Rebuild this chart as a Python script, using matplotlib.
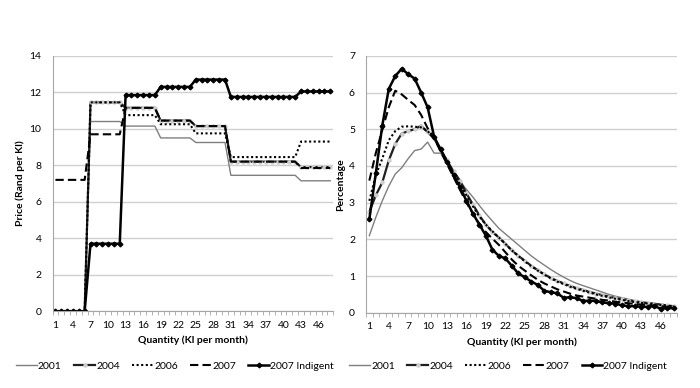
import numpy as np
import matplotlib
matplotlib.use("Agg")
import matplotlib.pyplot as plt
from matplotlib.ticker import MultipleLocator, FixedLocator

plt.rcParams['font.family'] = ['Lato', 'DejaVu Sans']

# Quantity categories (Kl per month)
quantity = list(range(1, 49))
tick_labels = [str(q) for q in range(1, 47, 3)]

series_names = ['2001', '2004', '2006', '2007', '2007 Indigent']

# Left panel: price (Rand per Kl)
price_2001 = [0, 0, 0, 0, 0, 0,
              10.4, 10.4, 10.4, 10.4, 10.4, 10.4,
              10.15, 10.15, 10.15, 10.15, 10.15, 10.15,
              9.5, 9.5, 9.5, 9.5, 9.5, 9.5,
              9.25, 9.25, 9.25, 9.25, 9.25, 9.25,
              7.45, 7.45, 7.45, 7.45, 7.45, 7.45, 7.45, 7.45, 7.45, 7.45, 7.45, 7.45,
              7.15, 7.15, 7.15, 7.15, 7.15, 7.15]
price_2004 = [0, 0, 0, 0, 0, 0,
              11.45, 11.45, 11.45, 11.45, 11.45, 11.45,
              11.15, 11.15, 11.15, 11.15, 11.15, 11.15,
              10.45, 10.45, 10.45, 10.45, 10.45, 10.45,
              10.15, 10.15, 10.15, 10.15, 10.15, 10.15,
              8.2, 8.2, 8.2, 8.2, 8.2, 8.2, 8.2, 8.2, 8.2, 8.2, 8.2, 8.2,
              7.9, 7.9, 7.9, 7.9, 7.9, 7.9]
price_2006 = [0, 0, 0, 0, 0, 0,
              11.45, 11.45, 11.45, 11.45, 11.45, 11.45,
              10.75, 10.75, 10.75, 10.75, 10.75, 10.75,
              10.25, 10.25, 10.25, 10.25, 10.25, 10.25,
              9.75, 9.75, 9.75, 9.75, 9.75, 9.75,
              8.45, 8.45, 8.45, 8.45, 8.45, 8.45, 8.45, 8.45, 8.45, 8.45, 8.45, 8.45,
              9.3, 9.3, 9.3, 9.3, 9.3, 9.3]
price_2007 = [7.2, 7.2, 7.2, 7.2, 7.2, 7.2,
              9.7, 9.7, 9.7, 9.7, 9.7, 9.7,
              11.15, 11.15, 11.15, 11.15, 11.15, 11.15,
              10.45, 10.45, 10.45, 10.45, 10.45, 10.45,
              10.15, 10.15, 10.15, 10.15, 10.15, 10.15,
              8.2, 8.2, 8.2, 8.2, 8.2, 8.2, 8.2, 8.2, 8.2, 8.2, 8.2, 8.2,
              7.85, 7.85, 7.85, 7.85, 7.85, 7.85]
price_indigent = [0, 0, 0, 0, 0, 0,
                  3.7, 3.7, 3.7, 3.7, 3.7, 3.7,
                  11.85, 11.85, 11.85, 11.85, 11.85, 11.85,
                  12.3, 12.3, 12.3, 12.3, 12.3, 12.3,
                  12.7, 12.7, 12.7, 12.7, 12.7, 12.7,
                  11.75, 11.75, 11.75, 11.75, 11.75, 11.75, 11.75, 11.75, 11.75, 11.75, 11.75, 11.75,
                  12.05, 12.05, 12.05, 12.05, 12.05, 12.05]

# Right panel: percentage of households
pct_2001 = [2.1, 2.6, 3.05, 3.45, 3.78, 3.95, 4.2, 4.42, 4.46, 4.65,
            4.35, 4.35, 4.08, 3.82, 3.58, 3.36, 3.15, 2.92, 2.7, 2.5,
            2.3, 2.15, 2.0, 1.85, 1.7, 1.55, 1.42, 1.3, 1.18, 1.07,
            0.97, 0.88, 0.8, 0.74, 0.68, 0.62, 0.56, 0.5, 0.45, 0.41,
            0.37, 0.33, 0.3, 0.28, 0.26, 0.23, 0.21, 0.19]
pct_2004 = [2.75, 3.2, 3.55, 4.15, 4.6, 4.88, 4.95, 5.0, 5.1, 4.92,
            4.75, 4.45, 4.15, 3.85, 3.6, 3.25, 2.95, 2.65, 2.4, 2.2,
            2.05, 1.88, 1.7, 1.55, 1.42, 1.28, 1.16, 1.05, 0.95, 0.87,
            0.8, 0.73, 0.67, 0.62, 0.57, 0.52, 0.48, 0.44, 0.4, 0.37,
            0.34, 0.31, 0.28, 0.26, 0.24, 0.22, 0.2, 0.17]
pct_2006 = [3.05, 3.75, 4.2, 4.7, 4.95, 5.07, 5.08, 5.07, 5.05, 4.95,
            4.75, 4.45, 4.12, 3.82, 3.5, 3.2, 2.9, 2.62, 2.4, 2.22,
            2.05, 1.88, 1.7, 1.55, 1.4, 1.27, 1.15, 1.04, 0.94, 0.85,
            0.78, 0.71, 0.65, 0.6, 0.55, 0.5, 0.46, 0.42, 0.38, 0.35,
            0.32, 0.29, 0.27, 0.25, 0.23, 0.21, 0.19, 0.17]
pct_2007 = [3.6, 4.35, 4.98, 5.6, 6.05, 5.95, 5.8, 5.66, 5.39, 5.03,
            4.76, 4.4, 4.05, 3.7, 3.35, 3.0, 2.7, 2.42, 2.2, 2.02,
            1.85, 1.65, 1.45, 1.28, 1.15, 1.02, 0.9, 0.8, 0.72, 0.64,
            0.58, 0.52, 0.47, 0.44, 0.41, 0.38, 0.35, 0.33, 0.3, 0.28,
            0.26, 0.24, 0.22, 0.21, 0.19, 0.18, 0.16, 0.15]
pct_indigent = [2.55, 3.8, 5.1, 6.1, 6.45, 6.65, 6.5, 6.38, 6.0, 5.6,
                4.8, 4.45, 4.1, 3.75, 3.42, 3.05, 2.7, 2.4, 2.1, 1.72,
                1.55, 1.48, 1.28, 1.07, 0.97, 0.85, 0.76, 0.6, 0.56, 0.53,
                0.41, 0.42, 0.4, 0.32, 0.33, 0.32, 0.28, 0.26, 0.25, 0.2,
                0.18, 0.18, 0.16, 0.16, 0.18, 0.11, 0.13, 0.12]

styles = [
    dict(color='#7f7f7f', lw=1.0, ls='-'),
    dict(color='#1f1f1f', lw=1.6, ls='-', marker='o', ms=2.2, mfc='#cfcfcf', mec='#cfcfcf'),
    dict(color='black', lw=1.5, ls=(0, (1, 1.2))),
    dict(color='black', lw=1.5, ls=(0, (4, 2))),
    dict(color='black', lw=1.8, ls='-', marker='D', ms=2.4, mfc='black', mec='black'),
]


def draw_panel(fig, ax, series, ymax, ylabel, legend_x):
    for name, values, st in zip(series_names, series, styles):
        ax.plot(quantity, values, label=name, **st)
    ax.set_xlim(0.5, 48.5)
    ax.set_ylim(0, ymax)
    ax.yaxis.set_major_locator(MultipleLocator(2 if ymax > 10 else 1))
    ax.set_xticks(range(1, 47, 3))
    ax.set_xticklabels(tick_labels)
    ax.xaxis.set_minor_locator(FixedLocator(np.arange(0.5, 49, 1)))
    ax.tick_params(axis='x', which='major', length=0, labelsize=7.5, pad=7)
    ax.tick_params(axis='x', which='minor', length=3, color='#a6a6a6', width=0.6)
    ax.tick_params(axis='y', length=0, labelsize=7.5, pad=8)
    ax.grid(axis='y', color='#d0d0d0', lw=1.0)
    ax.set_axisbelow(True)
    for side in ['top', 'right']:
        ax.spines[side].set_visible(False)
    for side in ['left', 'bottom']:
        ax.spines[side].set_color('#a6a6a6')
        ax.spines[side].set_linewidth(0.8)
    ax.set_xlabel('Quantity (Kl per month)', fontsize=7.5, fontweight='bold', labelpad=4)
    ax.set_ylabel(ylabel, fontsize=7.5, fontweight='bold', labelpad=3)
    ax.legend(loc='center', bbox_to_anchor=(legend_x, 0.057), bbox_transform=fig.transFigure,
              ncol=5, frameon=False, fontsize=7.5, handlelength=2.0, handletextpad=0.1,
              columnspacing=1.2, borderpad=0, borderaxespad=0)


fig = plt.figure(figsize=(7, 3.88), dpi=100)
ax1 = fig.add_axes([0.075, 0.198, 0.401, 0.658])
ax2 = fig.add_axes([0.523, 0.194, 0.444, 0.662])

draw_panel(fig, ax1, [price_2001, price_2004, price_2006, price_2007, price_indigent], 14,
           'Price (Rand per Kl)', 0.25)
draw_panel(fig, ax2, [pct_2001, pct_2004, pct_2006, pct_2007, pct_indigent], 7,
           'Percentage', 0.726)

fig.savefig('out.png', dpi=100)
